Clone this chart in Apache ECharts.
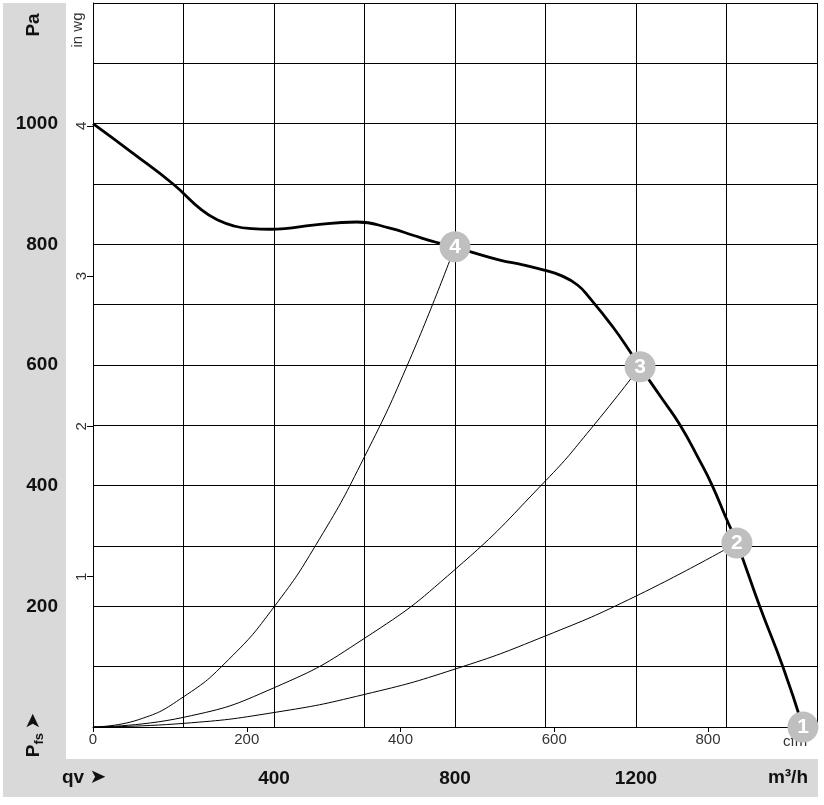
<!DOCTYPE html>
<html>
<head>
<meta charset="utf-8">
<script src="https://cdn.jsdelivr.net/npm/echarts@6/dist/echarts.min.js"></script>
<style>html,body{margin:0;padding:0;background:#fff;}#c{width:824px;height:805px;}</style>
</head>
<body>
<div id="c"></div>
<script>
// ---- data ----
// main fan curve: flow (m³/h) and static pressure (Pa)
const fanFlow = [0,90,177,240,277,314,351,390,424,486,583,656,707,760,800,833,899,950,999,1032,1070,1098,1149,1187,1209,1255,1297,1341,1368,1401,1423,1474,1525,1569];
const fanPa   = [1000,950,900,857,840,830,826,825,826,832,837,827,815,803,796,788,774,766,757,749,733,711,663,622,597,547,501,441,401,343,305,199,99,0];
// system curves
const sys4Flow = [0,100,200,300,400,500,600,700,800];
const sys4Pa   = [0,12,50,112,199,311,448,609,796];
const sys3Flow = [0,200,400,600,800,1000,1100,1209];
const sys3Pa   = [0,16,65,147,261,408,494,597];
const sys2Flow = [0,200,400,600,800,1000,1200,1423];
const sys2Pa   = [0,6,24,54,96,151,217,305];
// operating points
const opFlow   = [1569,1423,1209,800];
const opPa     = [0,305,597,796];
const opLabels = ['1','2','3','4'];
// tick labels
const m3hLabels  = [400,800,1200];
const paLabels   = [200,400,600,800,1000];
const cfmLabels  = [0,200,400,600,800];
const inwgLabels = [1,2,3,4];

const FONT = '"Liberation Sans", Arial, sans-serif';
const zip = (a,b) => a.map((v,i)=>[v,b[i]]);

const chart = echarts.init(document.getElementById('c'), null, {renderer:'canvas'});
const lineS = (name, fx, py, w, z, sm) => ({
  name, type:'line', xAxisIndex:0, yAxisIndex:0, data: zip(fx,py),
  smooth: sm, showSymbol:false, symbol:'none',
  lineStyle:{color:'#000', width:w}, z, silent:true, animation:false
});

chart.setOption({
  animation:false,
  backgroundColor:'#fff',
  grid:{left:93, top:3, width:724, height:724, containLabel:false},
  xAxis:[
    { type:'value', position:'bottom', min:0, max:1600, interval:200,
      axisLine:{show:true, onZero:false, lineStyle:{color:'#000', width:1}},
      axisTick:{show:false},
      splitLine:{show:true, lineStyle:{color:'#000', width:1}},
      axisLabel:{show:true, margin:42, fontFamily:FONT, fontSize:19, fontWeight:'bold', color:'#111',
        formatter:v => m3hLabels.includes(v) ? String(v) : ''}
    },
    { type:'value', position:'bottom', min:0, max:1600/1.699, interval:200,
      axisLine:{show:false, onZero:false},
      axisTick:{show:true, length:5, lineStyle:{color:'#000'}, customValues:cfmLabels},
      splitLine:{show:false},
      axisLabel:{show:true, margin:5, fontFamily:FONT, fontSize:15, color:'#333', customValues:cfmLabels,
        formatter:v => String(v)}
    }
  ],
  yAxis:[
    { type:'value', position:'left', min:0, max:1200, interval:100,
      axisLine:{show:true, onZero:false, lineStyle:{color:'#000', width:1}},
      axisTick:{show:false},
      splitLine:{show:true, lineStyle:{color:'#000', width:1}},
      axisLabel:{show:true, margin:35, fontFamily:FONT, fontSize:19, fontWeight:'bold', color:'#111',
        formatter:v => paLabels.includes(v) ? String(v) : ''}
    },
    { type:'value', position:'left', min:0, max:1200/249.09, interval:1,
      axisLine:{show:false, onZero:false},
      axisTick:{show:true, length:6, lineStyle:{color:'#000'}, customValues:inwgLabels},
      splitLine:{show:false},
      axisLabel:{show:true, margin:4, rotate:90, fontFamily:FONT, fontSize:15, color:'#333', customValues:inwgLabels,
        formatter:v => String(v)}
    }
  ],
  graphic:[
    {type:'rect', z:-10, silent:true, shape:{x:3, y:3, width:63, height:794}, style:{fill:'#d9d9d9'}},
    {type:'rect', z:-10, silent:true, shape:{x:3, y:759, width:815, height:38}, style:{fill:'#d9d9d9'}},
    {type:'text', z:1, x:34, y:25, rotation:Math.PI/2,
      style:{text:'Pa', font:'bold 19px '+FONT, fill:'#111', align:'center', verticalAlign:'middle', textAlign:'center', textVerticalAlign:'middle'}},
    {type:'text', z:1, x:34, y:735, rotation:Math.PI/2,
      style:{text:'{p|P}{s|fs} {a|➤}', align:'center', verticalAlign:'middle', textAlign:'center', textVerticalAlign:'middle',
        rich:{
          p:{font:'bold 19px '+FONT, fill:'#111', lineHeight:24, verticalAlign:'middle'},
          s:{font:'bold 13px '+FONT, fill:'#111', lineHeight:24, verticalAlign:'bottom'},
          a:{font:'bold 20px "DejaVu Sans"', fill:'#111', lineHeight:24, verticalAlign:'middle'}
        }}},
    {type:'text', z:1, x:62, y:778,
      style:{text:'qv {a|➤}', font:'bold 19px '+FONT, fill:'#111', align:'left', verticalAlign:'middle', textAlign:'left', textVerticalAlign:'middle',
        rich:{a:{font:'bold 20px "DejaVu Sans"', fill:'#111'}}}},
    {type:'text', z:1, x:808, y:778,
      style:{text:'m³/h', font:'bold 19px '+FONT, fill:'#111', align:'right', verticalAlign:'middle', textAlign:'right', textVerticalAlign:'middle'}},
    {type:'text', z:1, x:78, y:30, rotation:Math.PI/2,
      style:{text:'in wg', font:'15px '+FONT, fill:'#333', align:'center', verticalAlign:'middle', textAlign:'center', textVerticalAlign:'middle'}},
    {type:'text', z:1, x:783, y:742,
      style:{text:'cfm', font:'15px '+FONT, fill:'#333', align:'left', verticalAlign:'middle', textAlign:'left', textVerticalAlign:'middle'}}
  ],
  series:[
    lineS('sys2', sys2Flow, sys2Pa, 1, 3, 0.5),
    lineS('sys3', sys3Flow, sys3Pa, 1, 3, 0.5),
    lineS('sys4', sys4Flow, sys4Pa, 1, 3, 0.5),
    lineS('fan', fanFlow, fanPa, 2.8, 4, 0.5),
    { name:'points', type:'scatter', xAxisIndex:0, yAxisIndex:0, clip:false, z:10, silent:true,
      data: opFlow.map((f,i)=>[f, opPa[i], opLabels[i]]),
      symbol:'circle', symbolSize:31,
      itemStyle:{color:'#bfbfbf', opacity:1},
      label:{show:true, position:'inside', formatter:p => p.value[2],
        fontFamily:FONT, fontWeight:'bold', fontSize:21, color:'#fff'}
    }
  ]
});
</script>
</body>
</html>
